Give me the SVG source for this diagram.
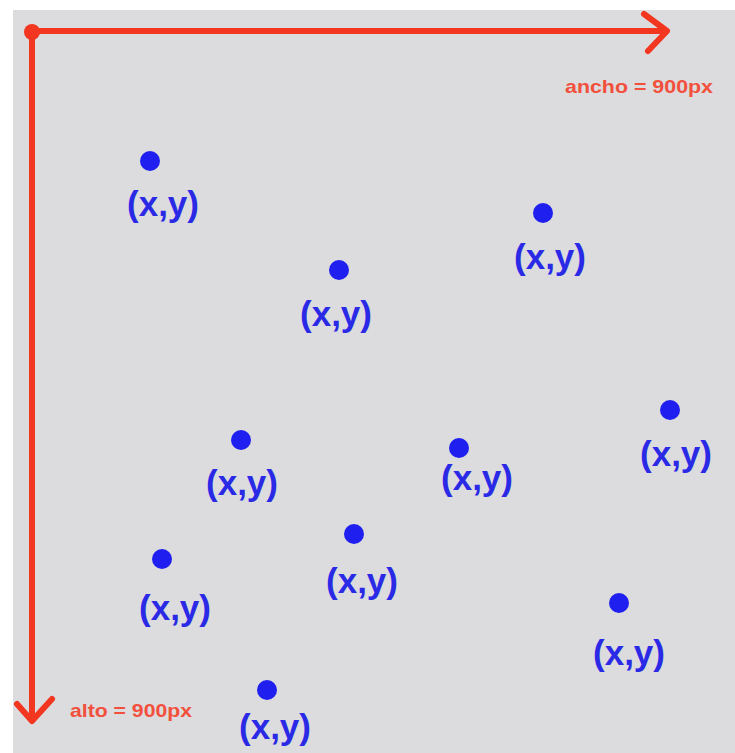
<svg xmlns="http://www.w3.org/2000/svg" width="735" height="753" viewBox="0 0 735 753">
<style>
.lbl{font-family:"Liberation Sans",Arial,sans-serif;font-weight:bold;font-size:35px;fill:#2a2ae6;text-anchor:middle}
.dot{fill:#1f1ff0}
.ax{stroke:#f2361f;stroke-width:6;fill:none;stroke-linecap:round;stroke-linejoin:round}
.axl{font-family:"Liberation Sans",Arial,sans-serif;font-weight:bold;font-size:19px;fill:#f2503c}
</style>
<rect width="735" height="753" fill="#ffffff"/>
<rect x="13" y="10" width="722" height="743" fill="#dcdbdd"/>
<g id="connectors">
<path class="ax" d="M32 31 H666"/>
<path class="ax" d="M644 14 L667 31 L648 51"/>
<path class="ax" d="M32 31 V720"/>
<path class="ax" d="M17 704 L32 721 L52 699"/>
<circle cx="32" cy="32" r="8" fill="#f2361f"/>
</g>
<g id="ancho"><text class="axl" x="565" y="93" textLength="148" lengthAdjust="spacingAndGlyphs">ancho = 900px</text></g>
<g id="alto"><text class="axl" x="70" y="717" textLength="122" lengthAdjust="spacingAndGlyphs">alto = 900px</text></g>
<g id="p1"><circle class="dot" cx="150" cy="161" r="10"/><text class="lbl" x="163" y="216">(x,y)</text></g>
<g id="p2"><circle class="dot" cx="543" cy="213" r="10"/><text class="lbl" x="550" y="269">(x,y)</text></g>
<g id="p3"><circle class="dot" cx="339" cy="270" r="10"/><text class="lbl" x="336" y="326">(x,y)</text></g>
<g id="p4"><circle class="dot" cx="670" cy="410" r="10"/><text class="lbl" x="676" y="466">(x,y)</text></g>
<g id="p5"><circle class="dot" cx="241" cy="440" r="10"/><text class="lbl" x="242" y="495">(x,y)</text></g>
<g id="p6"><circle class="dot" cx="459" cy="448" r="10"/><text class="lbl" x="477" y="490">(x,y)</text></g>
<g id="p7"><circle class="dot" cx="354" cy="534" r="10"/><text class="lbl" x="362" y="593">(x,y)</text></g>
<g id="p8"><circle class="dot" cx="162" cy="559" r="10"/><text class="lbl" x="175" y="620">(x,y)</text></g>
<g id="p9"><circle class="dot" cx="619" cy="603" r="10"/><text class="lbl" x="629" y="665">(x,y)</text></g>
<g id="p10"><circle class="dot" cx="267" cy="690" r="10"/><text class="lbl" x="275" y="739">(x,y)</text></g>
</svg>
